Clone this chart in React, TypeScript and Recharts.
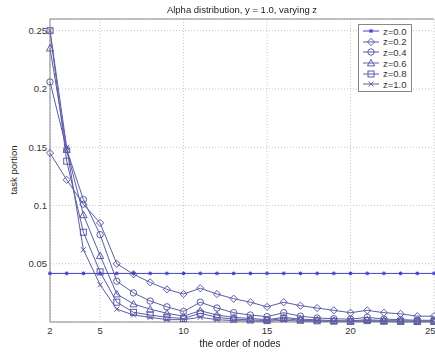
import React from "react"
import { CartesianGrid, Line, LineChart, ReferenceLine, XAxis, YAxis } from "recharts"

const nodes = [2, 3, 4, 5, 6, 7, 8, 9, 10, 11, 12, 13, 14, 15, 16, 17, 18, 19, 20, 21, 22, 23, 24, 25]

const z00 = [0.0417, 0.0417, 0.0417, 0.0417, 0.0417, 0.0417, 0.0417, 0.0417, 0.0417, 0.0417, 0.0417, 0.0417, 0.0417, 0.0417, 0.0417, 0.0417, 0.0417, 0.0417, 0.0417, 0.0417, 0.0417, 0.0417, 0.0417, 0.0417]
const z02 = [0.145, 0.122, 0.101, 0.085, 0.05, 0.041, 0.034, 0.028, 0.024, 0.029, 0.024, 0.02, 0.017, 0.013, 0.017, 0.014, 0.012, 0.01, 0.008, 0.01, 0.008, 0.007, 0.005, 0.005]
const z04 = [0.206, 0.148, 0.105, 0.075, 0.035, 0.025, 0.018, 0.013, 0.009, 0.017, 0.012, 0.008, 0.006, 0.0046, 0.008, 0.005, 0.0035, 0.0028, 0.0024, 0.004, 0.0025, 0.002, 0.0015, 0.0015]
const z06 = [0.235, 0.148, 0.092, 0.057, 0.024, 0.0155, 0.011, 0.0075, 0.005, 0.0097, 0.006, 0.004, 0.003, 0.002, 0.004, 0.0025, 0.0018, 0.0012, 0.001, 0.002, 0.0012, 0.001, 0.0008, 0.0008]
const z08 = [0.25, 0.138, 0.077, 0.043, 0.017, 0.0083, 0.006, 0.004, 0.003, 0.0075, 0.004, 0.0025, 0.0018, 0.0012, 0.003, 0.0015, 0.001, 0.0007, 0.0005, 0.0012, 0.0006, 0.0005, 0.0004, 0.0004]
const z10 = [0.25, 0.15, 0.062, 0.032, 0.011, 0.006, 0.004, 0.002, 0.002, 0.004, 0.002, 0.0012, 0.0008, 0.0005, 0.0015, 0.0007, 0.0005, 0.0003, 0.0002, 0.0006, 0.0003, 0.0002, 0.0002, 0.0002]

const xTicks = [2, 5, 10, 15, 20, 25]
const yTicks = [0.05, 0.1, 0.15, 0.2, 0.25]

const series = [
  { key: "z00", name: "z=0.0", shape: "star", color: "#4040c8", values: z00 },
  { key: "z02", name: "z=0.2", shape: "diamond", color: "#5c5ca6", values: z02 },
  { key: "z04", name: "z=0.4", shape: "circle", color: "#5c5ca6", values: z04 },
  { key: "z06", name: "z=0.6", shape: "triangle", color: "#5c5ca6", values: z06 },
  { key: "z08", name: "z=0.8", shape: "square", color: "#5c5ca6", values: z08 },
  { key: "z10", name: "z=1.0", shape: "x", color: "#5c5ca6", values: z10 },
]

const data = nodes.map((n, i) => {
  const row: Record<string, number> = { n }
  series.forEach((s) => (row[s.key] = s.values[i]))
  return row
})

const font = "'Liberation Sans', Arial, sans-serif"

function Marker({ cx, cy, shape, color }: { cx: number; cy: number; shape: string; color: string }) {
  const p = { stroke: color, strokeWidth: 1, fill: "none" }
  if (shape === "star") {
    const r = 2
    return (
      <g {...p}>
        <line x1={cx - r} y1={cy} x2={cx + r} y2={cy} />
        <line x1={cx} y1={cy - r} x2={cx} y2={cy + r} />
        <line x1={cx - 1.5} y1={cy - 1.5} x2={cx + 1.5} y2={cy + 1.5} />
        <line x1={cx - 1.5} y1={cy + 1.5} x2={cx + 1.5} y2={cy - 1.5} />
      </g>
    )
  }
  if (shape === "diamond") {
    const r = 3.6
    return <polygon {...p} points={`${cx},${cy - r} ${cx + r},${cy} ${cx},${cy + r} ${cx - r},${cy}`} />
  }
  if (shape === "circle") return <circle {...p} cx={cx} cy={cy} r={3.2} />
  if (shape === "triangle") {
    const r = 3.6
    return <polygon {...p} points={`${cx},${cy - r} ${cx + r},${cy + r * 0.8} ${cx - r},${cy + r * 0.8}`} />
  }
  if (shape === "square") return <rect {...p} x={cx - 3} y={cy - 3} width={6} height={6} />
  const r = 2.5
  return (
    <g {...p}>
      <line x1={cx - r} y1={cy - r} x2={cx + r} y2={cy + r} />
      <line x1={cx - r} y1={cy + r} x2={cx + r} y2={cy - r} />
    </g>
  )
}

function LegendBox() {
  return (
    <div
      style={{
        position: "absolute",
        left: 358,
        top: 24,
        border: "1px solid #888",
        background: "white",
        width: 52,
        padding: "1px 0",
        fontFamily: font,
        fontSize: 9.5,
        color: "#333",
      }}
    >
      {series.map((s) => (
        <div key={s.key} style={{ display: "flex", alignItems: "center", height: 10.6 }}>
          <svg width={24} height={10} style={{ flex: "none" }}>
            <line x1={4} y1={5} x2={20} y2={5} stroke={s.color} strokeWidth={1} />
            <Marker cx={12} cy={5} shape={s.shape} color={s.color} />
          </svg>
          <span>{s.name}</span>
        </div>
      ))}
    </div>
  )
}

export default function App() {
  return (
    <div style={{ position: "fixed", left: 0, top: 0, width: 435, height: 360, background: "white" }}>
      <LineChart width={435} height={360} data={data} margin={{ top: 19, right: 1, bottom: 0, left: 0 }}>
        <CartesianGrid stroke="#c4c4c4" strokeDasharray="1 2" />
        <XAxis
          dataKey="n"
          type="number"
          domain={[2, 25]}
          ticks={xTicks}
          height={38}
          tickLine={false}
          tickSize={0}
          tickMargin={5}
          stroke="#888"
          tick={{ fontSize: 9.5, fill: "#333", fontFamily: font }}
        />
        <YAxis
          type="number"
          domain={[0, 0.26]}
          ticks={yTicks}
          width={50}
          tickLine={false}
          tickSize={0}
          tickMargin={3}
          stroke="#888"
          tick={{ fontSize: 9.5, fill: "#333", fontFamily: font }}
        />
        <ReferenceLine y={0.26} stroke="#888" />
        {series.map((s) => (
          <Line
            key={s.key}
            dataKey={s.key}
            name={s.name}
            type="linear"
            stroke={s.color}
            strokeWidth={1}
            isAnimationActive={false}
            dot={(props: any) => (
              <Marker key={`${s.key}-${props.index}`} cx={props.cx} cy={props.cy} shape={s.shape} color={s.color} />
            )}
            activeDot={false}
          />
        ))}
      </LineChart>
      <LegendBox />
      <div
        style={{
          position: "absolute",
          left: 0,
          width: 484,
          top: 4,
          textAlign: "center",
          fontFamily: font,
          fontSize: 9.5,
          color: "#222",
        }}
      >
        Alpha distribution, y = 1.0, varying z
      </div>
      <div
        style={{
          position: "absolute",
          left: 0,
          width: 480,
          top: 338,
          textAlign: "center",
          fontFamily: font,
          fontSize: 10,
          color: "#222",
        }}
      >
        the order of nodes
      </div>
      <div
        style={{
          position: "absolute",
          left: 13,
          top: 170,
          transform: "translate(-50%, -50%) rotate(-90deg)",
          whiteSpace: "nowrap",
          fontFamily: font,
          fontSize: 9.5,
          color: "#222",
        }}
      >
        task portion
      </div>
    </div>
  )
}
